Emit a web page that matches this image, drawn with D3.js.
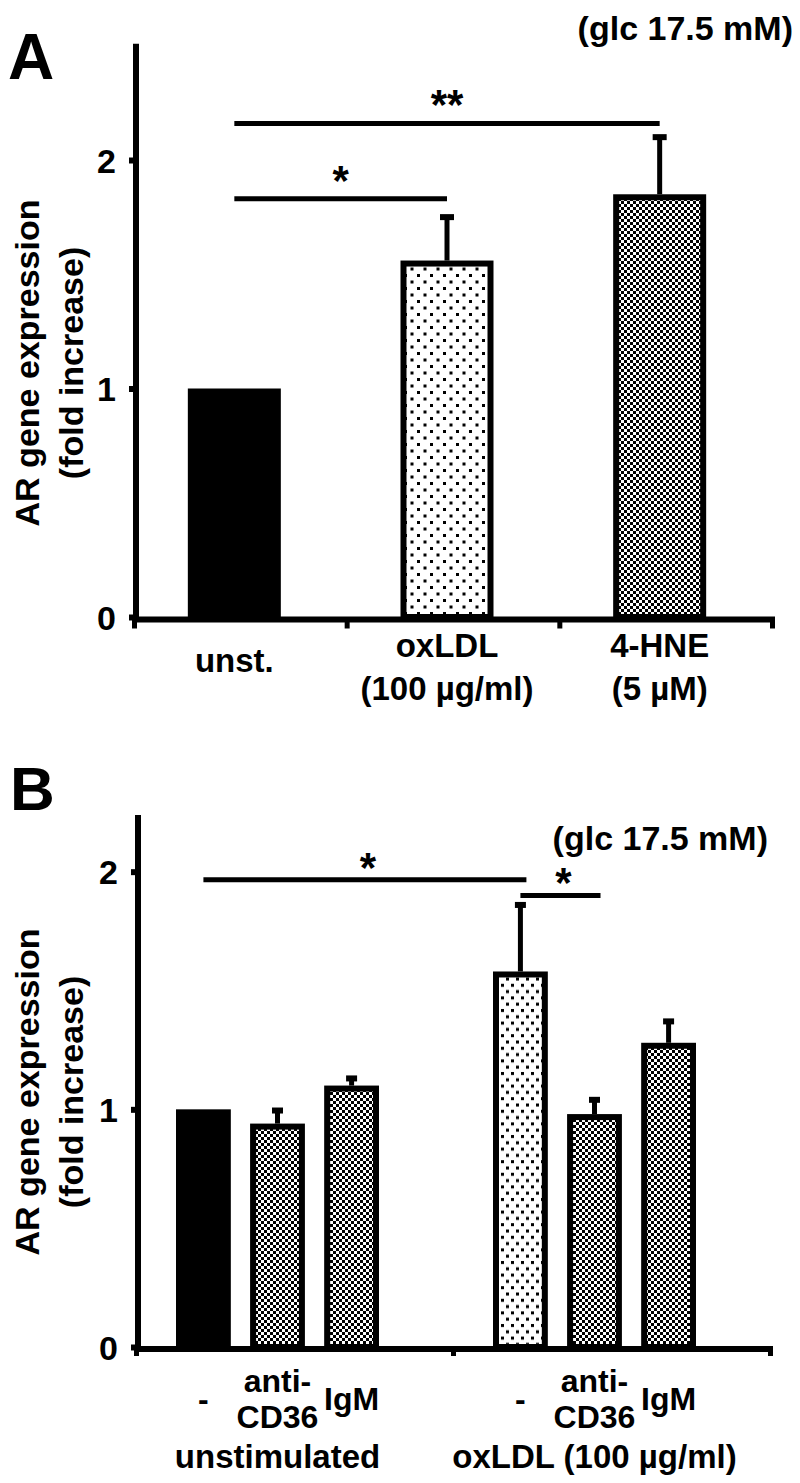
<!DOCTYPE html>
<html>
<head>
<meta charset="utf-8">
<script src="https://cdn.jsdelivr.net/npm/d3@7/dist/d3.min.js"></script>
<style>
  body { margin: 0; background: #fff; }
  svg { display: block; }
  text { font-family: "Liberation Sans", Arial, sans-serif; font-weight: bold; fill: #000; }
</style>
</head>
<body>
<svg id="chart" width="800" height="1483"></svg>
<script>
// ---- panel A data ----
const catsA = ['unst.', 'oxLDL', '4-HNE'];
const labelsA = [['unst.'], ['oxLDL', '(100 µg/ml)'], ['4-HNE', '(5 µM)']];
const valuesA = [1.0, 1.56, 1.85];
const errorsA = [0, 0.19, 0.25];
const fillsA = ['solid', 'dots', 'checker'];
const ticksA = [0, 1, 2];
const sigA = [
  { from: 0, to: 1, y: 1.83, label: '*' },
  { from: 0, to: 2, y: 2.16, label: '**' }
];

// ---- panel B data ----
const groupsB = ['unstimulated', 'oxLDL (100 µg/ml)'];
const subsB = ['-', 'anti-CD36', 'IgM'];
const subLabelsB = [['-'], ['anti-', 'CD36'], ['IgM']];
const valuesB = [[1.0, 0.94, 1.10], [1.58, 0.98, 1.28]];
const errorsB = [[0, 0.055, 0.03], [0.28, 0.06, 0.09]];
const fillsB = [['solid', 'checker', 'checker'], ['dots', 'checker', 'checker']];
const ticksB = [0, 1, 2];
const sigB = [
  { from: [0, 0], to: [1, 0], y: 1.966, label: '*' },
  { from: [1, 0], to: [1, 1], y: 1.90, label: '*' }
];

const yTitle = ['AR gene expression', '(fold increase)'];
const glcNote = '(glc 17.5 mM)';

const svg = d3.select('#chart');
const defs = svg.append('defs');

// fill patterns
function dotPattern(id, w, h) {
  const p = defs.append('pattern').attr('id', id)
    .attr('patternUnits', 'userSpaceOnUse').attr('width', w).attr('height', h);
  p.append('rect').attr('width', w).attr('height', h).attr('fill', '#fff');
  p.append('rect').attr('x', 1).attr('y', 1).attr('width', 3).attr('height', 3).attr('fill', '#000');
  p.append('rect').attr('x', 1 + w / 2).attr('y', 1 + h / 2).attr('width', 3).attr('height', 3).attr('fill', '#000');
}
dotPattern('dotsA', 13, 13);
dotPattern('dotsB', 10, 12.6);
const chk = defs.append('pattern').attr('id', 'checker')
  .attr('patternUnits', 'userSpaceOnUse').attr('width', 6).attr('height', 6);
chk.append('rect').attr('width', 6).attr('height', 6).attr('fill', '#fff');
chk.append('rect').attr('width', 3).attr('height', 3).attr('fill', '#000');
chk.append('rect').attr('x', 3).attr('y', 3).attr('width', 3).attr('height', 3).attr('fill', '#000');

function fillFor(kind, dotsId) {
  if (kind === 'solid') return '#000';
  if (kind === 'dots') return `url(#${dotsId})`;
  return 'url(#checker)';
}

// draws a bar with thick black border, plus its error bar
function drawBar(g, x0, w, y, v, e, kind, dotsId, capW) {
  const yTop = y(v), y0 = y(0);
  g.append('rect')
    .attr('x', x0 + 3).attr('y', yTop + 3)
    .attr('width', w - 6).attr('height', y0 - yTop - 3)
    .attr('fill', fillFor(kind, dotsId))
    .attr('stroke', '#000').attr('stroke-width', 6);
  if (e > 0) {
    const cx = x0 + w / 2;
    g.append('line')
      .attr('x1', cx).attr('x2', cx).attr('y1', yTop).attr('y2', y(v + e))
      .attr('stroke', '#000').attr('stroke-width', 5);
    g.append('rect')
      .attr('x', cx - capW / 2).attr('y', y(v + e) - 3)
      .attr('width', capW).attr('height', 6).attr('fill', '#000');
  }
}

function yAxis(g, y, ticks, x, size) {
  const ax = g.append('g').attr('transform', `translate(${x},0)`)
    .call(d3.axisLeft(y).tickValues(ticks).tickFormat(d3.format('d'))
      .tickSize(7).tickSizeOuter(0).tickPadding(13));
  ax.select('.domain').remove();
  ax.selectAll('.tick line').attr('stroke', '#000').attr('stroke-width', 6);
  ax.selectAll('.tick text').attr('font-size', size).attr('font-family', null)
    .attr('fill', '#000').attr('dy', '0.36em');
  g.append('line')
    .attr('x1', x).attr('x2', x)
    .attr('y1', y.range()[1] - 2).attr('y2', y(0) + 5)
    .attr('stroke', '#000').attr('stroke-width', 6);
}

function xAxis(g, x0, x1, yPos, n, tickLen) {
  const s = d3.scaleLinear().domain([0, n]).range([x0, x1]);
  const ax = g.append('g').attr('transform', `translate(0,${yPos})`)
    .call(d3.axisBottom(s).tickValues(d3.range(n + 1)).tickFormat('')
      .tickSize(tickLen).tickSizeOuter(0));
  ax.select('.domain').remove();
  ax.selectAll('.tick line').attr('stroke', '#000').attr('stroke-width', 5);
  g.append('line')
    .attr('x1', x0 - 2).attr('x2', x1 + 3).attr('y1', yPos).attr('y2', yPos)
    .attr('stroke', '#000').attr('stroke-width', 6);
}

function yTitleAt(g, cx, cy, size, gap) {
  const t = g.append('text')
    .attr('transform', `translate(${cx},${cy}) rotate(-90)`)
    .attr('text-anchor', 'middle').attr('font-size', size);
  yTitle.forEach((s, i) => t.append('tspan').attr('x', 0).attr('y', i * gap).text(s));
}

// ================= Panel A =================
const gA = svg.append('g');
const yA = d3.scaleLinear().domain([0, 2.5]).range([617, 45.75]);
const xA = d3.scaleBand().domain(catsA).range([134, 772]);
const barWA = 93;
const midA = c => xA(c) + xA.bandwidth() / 2 - 6;

catsA.forEach((c, i) => {
  drawBar(gA, midA(c) - barWA / 2, barWA, yA, valuesA[i], errorsA[i], fillsA[i], 'dotsA', 14);
});

xAxis(gA, xA.range()[0], xA.range()[1], 619.5, catsA.length, 9);
yAxis(gA, yA, ticksA, 136, 34);

catsA.forEach((c, i) => {
  const lines = labelsA[i];
  const t = gA.append('text').attr('text-anchor', 'middle').attr('font-size', 33);
  const base = lines.length === 1 ? [672] : [657, 700];
  lines.forEach((s, j) => t.append('tspan').attr('x', midA(c)).attr('y', base[j]).text(s));
});

sigA.forEach(s => {
  const xs = midA(catsA[s.from]);
  const xe = midA(catsA[s.to]);
  const yy = yA(s.y);
  gA.append('line').attr('x1', xs).attr('x2', xe).attr('y1', yy).attr('y2', yy)
    .attr('stroke', '#000').attr('stroke-width', 5);
  gA.append('text').attr('x', (xs + xe) / 2).attr('y', yy - 4)
    .attr('text-anchor', 'middle').attr('font-size', 42).text(s.label);
});

gA.append('text').attr('x', 793).attr('y', 40).attr('text-anchor', 'end')
  .attr('font-size', 34).text(glcNote);
gA.append('text').attr('x', 8).attr('y', 79).attr('font-size', 64).text('A');
yTitleAt(gA, 39, 363, 34, 44);

// ================= Panel B =================
const gB = svg.append('g');
const yB = d3.scaleLinear().domain([0, 2.23]).range([1347, 817]);
const xB = d3.scaleBand().domain(groupsB).range([136, 770]);
const xSub = d3.scaleBand().domain(subsB).range([40, 243]).paddingInner(0.26);
const barWB = xSub.bandwidth();
const barX = (gi, si) => xB(groupsB[gi]) + xSub(subsB[si]);

groupsB.forEach((grp, gi) => {
  subsB.forEach((sub, si) => {
    drawBar(gB, barX(gi, si), barWB, yB, valuesB[gi][si], errorsB[gi][si], fillsB[gi][si], 'dotsB', 11);
  });
});

xAxis(gB, xB.range()[0], xB.range()[1], 1349, groupsB.length, 7);
yAxis(gB, yB, ticksB, 138, 34);

groupsB.forEach((grp, gi) => {
  subsB.forEach((sub, si) => {
    const cx = barX(gi, si) + barWB / 2;
    const lines = subLabelsB[si];
    const t = gB.append('text').attr('text-anchor', 'middle').attr('font-size', 32);
    lines.forEach((s, j) => t.append('tspan').attr('x', cx)
      .attr('y', 1410 + (j - (lines.length - 1) / 2) * 36).text(s));
  });
  const gx = (barX(gi, 0) + barX(gi, 2) + barWB) / 2;
  gB.append('text').attr('x', gx).attr('y', 1468).attr('text-anchor', 'middle')
    .attr('font-size', 33).text(grp);
});

sigB.forEach(s => {
  const xs = barX(s.from[0], s.from[1]) + barWB / 2;
  const xe = barX(s.to[0], s.to[1]) + barWB / 2;
  const yy = yB(s.y);
  gB.append('line').attr('x1', xs).attr('x2', xe + 6).attr('y1', yy).attr('y2', yy)
    .attr('stroke', '#000').attr('stroke-width', 5);
  gB.append('text').attr('x', (xs + xe) / 2 + 6).attr('y', yy + 2)
    .attr('text-anchor', 'middle').attr('font-size', 42).text(s.label);
});

gB.append('text').attr('x', 768).attr('y', 850).attr('text-anchor', 'end')
  .attr('font-size', 34).text(glcNote);
gB.append('text').attr('x', 10).attr('y', 810).attr('font-size', 62).text('B');
yTitleAt(gB, 39, 1092, 34, 44);
</script>
</body>
</html>
